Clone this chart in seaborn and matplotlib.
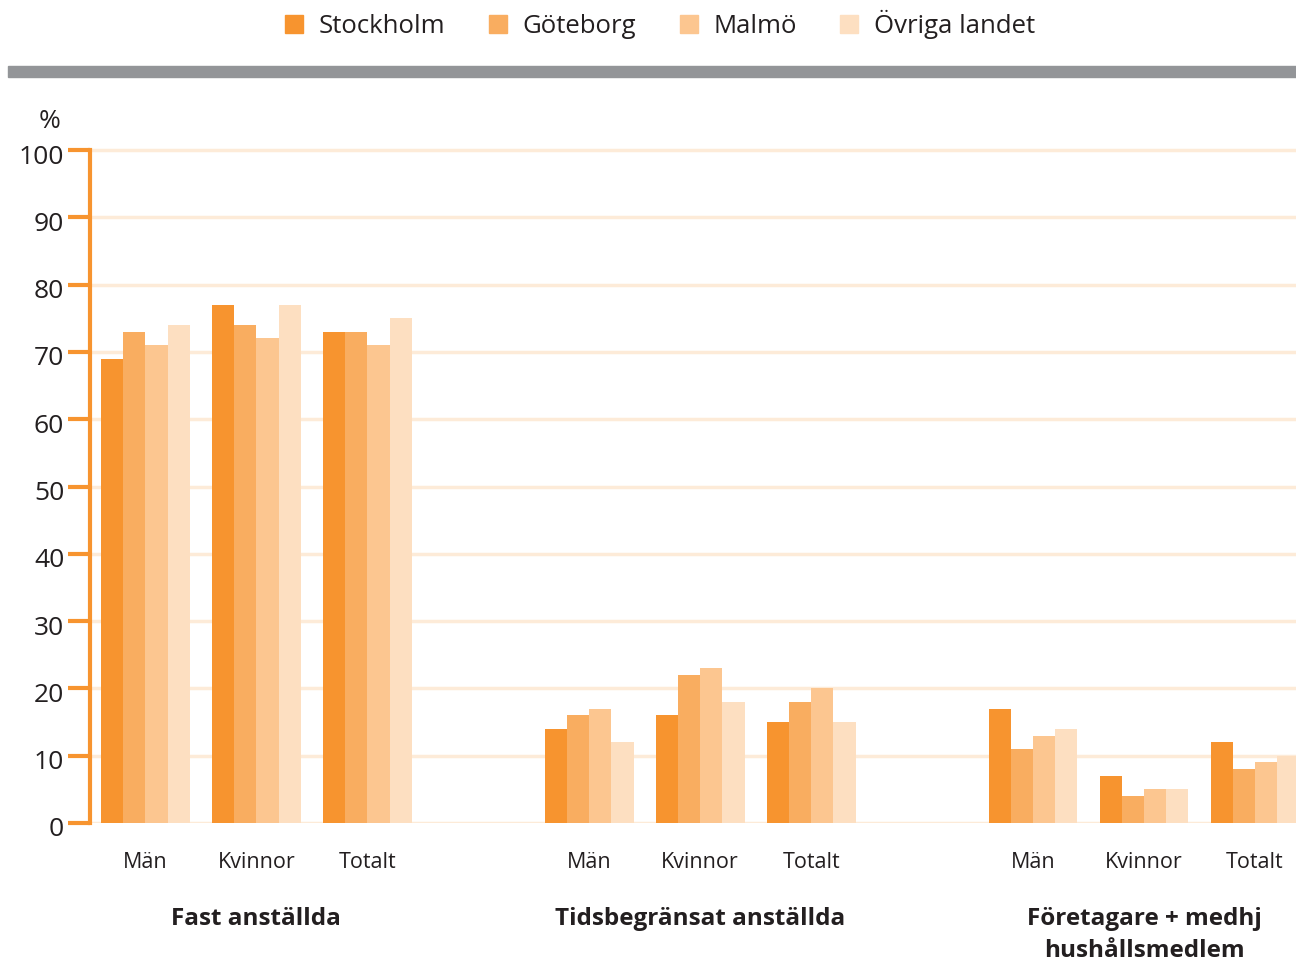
import numpy as np
import pandas as pd
import matplotlib.pyplot as plt
import matplotlib.transforms as mtransforms
import seaborn as sns

# data
regions = ["Stockholm", "Göteborg", "Malmö", "Övriga landet"]
groups = ["Fast anställda", "Tidsbegränsat anställda", "Företagare + medhj\nhushållsmedlem"]
subgroups = ["Män", "Kvinnor", "Totalt"]

fast_values = [[69, 73, 71, 74], [77, 74, 72, 77], [73, 73, 71, 75]]
tids_values = [[14, 16, 17, 12], [16, 22, 23, 18], [15, 18, 20, 15]]
foretag_values = [[17, 11, 13, 14], [7, 4, 5, 5], [12, 8, 9, 10]]

colors = ["#F7942F", "#F9AD60", "#FCC690", "#FDDFC1"]

rows = []
for g, vals in enumerate([fast_values, tids_values, foretag_values]):
    for s, sub_vals in enumerate(vals):
        pos = g * 4 + s
        for r, v in zip(regions, sub_vals):
            rows.append({"pos": pos, "group": groups[g], "sub": subgroups[s],
                         "region": r, "value": v})
df = pd.DataFrame(rows)

sns.set_theme(style="white")
plt.rcParams["font.family"] = ["Open Sans", "DejaVu Sans"]

fig = plt.figure(figsize=(12.96, 9.64), dpi=100)
W, H = 1296, 964
# axes: left x=90, data 0 at y=823, ~6.73 px per unit
y0, y100 = 823, 150
top_val = 101
ax_top = y0 - (y0 - y100) * top_val / 100
ax = fig.add_axes([90 / W, (H - y0) / H, (W - 90) / W, (y0 - ax_top) / H])

sns.barplot(data=df, x="pos", y="value", hue="region", hue_order=regions,
            palette=colors, native_scale=True, width=0.8, linewidth=0,
            saturation=1, ax=ax, legend=False, errorbar=None)

ax.set_xlim(-0.5, 10.37)
ax.set_ylim(0, top_val)

# gridlines
for yv in range(0, 101, 10):
    ax.axhline(yv, color="#FDEBD8", lw=2.5, zorder=0)

for sp in ["top", "right", "bottom"]:
    ax.spines[sp].set_visible(False)
ax.spines["left"].set_color("#F7942F")
ax.spines["left"].set_linewidth(3)
ax.spines["left"].set_bounds(0, 100)
ax.spines["left"].set_zorder(5)

ax.set_yticks(range(0, 101, 10))
ax.tick_params(axis="y", colors="#F7942F", length=16, width=3, direction="out",
               labelsize=19, labelcolor="#231F20", pad=4, left=True)
# reference labels sit a few pixels below their ticks
shift = mtransforms.ScaledTranslation(2 / 100, -4 / 100, fig.dpi_scale_trans)
for lab in ax.get_yticklabels():
    lab.set_transform(lab.get_transform() + shift)
ax.set_xlabel("")
ax.set_ylabel("")

xt = [g * 4 + s for g in range(3) for s in range(3)]
ax.set_xticks(xt)
ax.set_xticklabels(subgroups * 3, fontsize=15.5, color="#231F20")
ax.tick_params(axis="x", length=0, pad=21)

# group labels
for g, name in enumerate(groups):
    fig.text((145 + (g * 4 + 1) * 111) / W, 1 - 907 / H, name, ha="center", va="top",
             fontsize=17.5, fontweight="bold", color="#231F20", linespacing=1.45)

fig.text(50 / W, 1 - 121 / H, "%", ha="center", va="center", fontsize=19, color="#231F20")

# gray band below legend
fig.patches.append(plt.Rectangle((8 / W, 1 - 77 / H), (W - 8) / W, 11 / H,
                                 transform=fig.transFigure, color="#939598"))

# legend
handles = [plt.Rectangle((0, 0), 1, 1, color=c) for c in colors]
fig.legend(handles, regions, loc="center", bbox_to_anchor=(660 / W, 1 - 24 / H),
           ncol=4, frameon=False, fontsize=18.5, handlelength=0.7, handleheight=0.7,
           handletextpad=0.6, columnspacing=1.7, labelcolor="#231F20")

fig.savefig("out.png", dpi=100)
